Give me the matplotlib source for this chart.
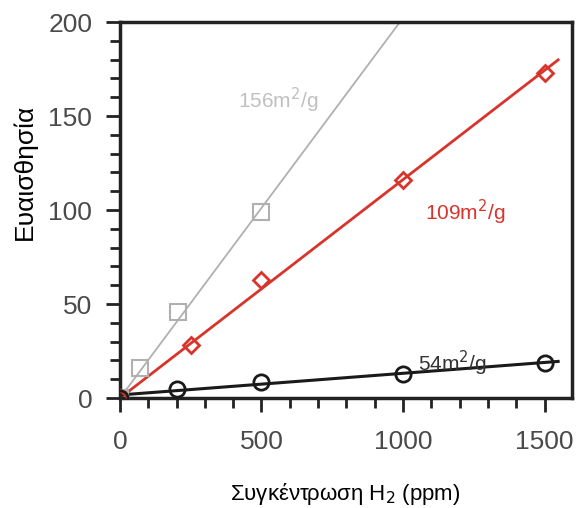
import numpy as np
import matplotlib
matplotlib.use("Agg")
import matplotlib.pyplot as plt
from matplotlib.ticker import MultipleLocator

plt.rcParams['font.family'] = ['Liberation Sans', 'DejaVu Sans']

# measured sensitivity vs H2 concentration for three surface areas
x156 = [0, 70, 205, 500]
y156 = [0, 16, 46, 99]
x109 = [0, 250, 500, 1000, 1500]
y109 = [0, 28, 63, 116, 173]
x54 = [0, 200, 500, 1000, 1500]
y54 = [0, 5, 8.5, 13, 18.5]

labels = ['156m$^2$/g', '109m$^2$/g', '54m$^2$/g']
xticks = [0, 500, 1000, 1500]
yticks = [0, 50, 100, 150, 200]

fig = plt.figure(figsize=(5.81, 5.08), dpi=100)
ax = fig.add_axes([0.2065, 0.2165, 0.778, 0.74])

# straight-line fits
def fit0(xs, ys):
    xs = np.array(xs, float)
    ys = np.array(ys, float)
    return (xs * ys).sum() / (xs * xs).sum()

k156 = fit0(x156, y156)
k109 = fit0(x109, y109)
b54 = np.polyfit(x54, y54, 1)

xl = np.array([0, 200 / k156])
ax.plot(xl, k156 * xl, color='#b0b0b0', lw=1.3, zorder=2)
ax.plot(x156, y156, 's', ms=11, mfc='none', mec='#b0b0b0', mew=1.5, zorder=3)

xl = np.array([0, 1548])
ax.plot(xl, k109 * xl, color='#d9342b', lw=2, zorder=2)
ax.plot(x109, y109, 'D', ms=8, mfc='none', mec='#d9342b', mew=2, zorder=3)

ax.plot(xl, np.polyval(b54, xl), color='#1a1a1a', lw=2.2, zorder=2)
ax.plot(x54, y54, 'o', ms=11, mfc='none', mec='#1a1a1a', mew=2, zorder=4)

ax.text(558, 158.5, labels[0], color='#c0c0c0', fontsize=15, ha='center', va='center')
ax.text(1219, 99, labels[1], color='#d9342b', fontsize=15, ha='center', va='center')
ax.text(1173, 18.5, labels[2], color='#333333', fontsize=15, ha='center', va='center')

ax.set_xlim(0, 1597)
ax.set_ylim(0, 200)
ax.set_xticks(xticks)
ax.set_yticks(yticks)
ax.xaxis.set_minor_locator(MultipleLocator(100))
ax.yaxis.set_minor_locator(MultipleLocator(10))
ax.tick_params(which='major', direction='out', length=10, width=2, color='#222222',
               labelsize=19, labelcolor='#4a4a4a')
ax.tick_params(axis='x', which='major', pad=13)
ax.tick_params(axis='y', which='major', pad=10)
ax.tick_params(which='minor', direction='out', length=7, width=2, color='#222222')
for sp in ax.spines.values():
    sp.set_linewidth(2.5)
    sp.set_color('#222222')

fig.text(0.043, 0.661, 'Ευαισθησία', rotation=90, fontsize=19, ha='center', va='center')
fig.text(0.594, 0.028, 'Συγκέντρωση H$_2$ (ppm)', fontsize=16, ha='center', va='center')

fig.savefig('out.png', dpi=100)
